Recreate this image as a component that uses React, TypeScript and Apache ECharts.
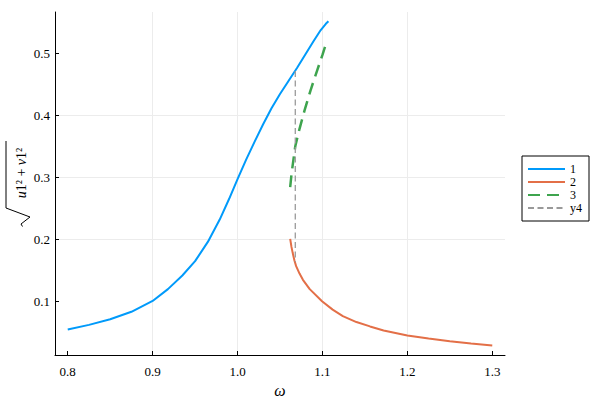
import React, { useEffect, useRef } from "react";
import * as echarts from "echarts";

const blueX = [0.8, 0.825, 0.85, 0.875, 0.9, 0.918, 0.935, 0.95, 0.965, 0.979, 0.99, 1.0, 1.01, 1.02, 1.03, 1.04, 1.05, 1.06, 1.07, 1.08, 1.09, 1.098, 1.104, 1.107];
const blueY = [0.055, 0.0625, 0.0715, 0.0835, 0.101, 0.12, 0.142, 0.165, 0.196, 0.232, 0.265, 0.297, 0.328, 0.357, 0.385, 0.411, 0.434, 0.455, 0.476, 0.498, 0.52, 0.537, 0.547, 0.551];

const orangeX = [1.062, 1.0635, 1.065, 1.067, 1.069, 1.073, 1.077, 1.085, 1.0995, 1.112, 1.124, 1.14, 1.156, 1.172, 1.2, 1.225, 1.25, 1.275, 1.3];
const orangeY = [0.201, 0.188, 0.178, 0.166, 0.157, 0.145, 0.135, 0.12, 0.1005, 0.087, 0.0765, 0.067, 0.06, 0.0535, 0.0455, 0.0405, 0.0362, 0.0325, 0.0293];

const greenX = [1.062, 1.0637, 1.066, 1.068, 1.073, 1.079, 1.086, 1.094, 1.1, 1.1047];
const greenY = [0.284, 0.307, 0.33, 0.35, 0.378, 0.408, 0.44, 0.473, 0.497, 0.517];

const grayX = [1.068, 1.068];
const grayY = [0.471, 0.164];

const xTicks = [0.8, 0.9, 1.0, 1.1, 1.2, 1.3];
const yTicks = [0.1, 0.2, 0.3, 0.4, 0.5];
const seriesNames = ["1", "2", "3", "y4"];

const FONT = "Liberation Serif";

const pairs = (xs: number[], ys: number[]) => xs.map((x, i) => [x, ys[i]]);

export default function App() {
  const ref = useRef<HTMLDivElement>(null);
  useEffect(() => {
    if (!ref.current) return;
    const chart = echarts.init(ref.current, null, { renderer: "svg" });
    const axisCommon = {
      type: "value" as const,
      axisLine: { show: true, onZero: false, lineStyle: { color: "#000", width: 1 } },
      splitLine: { show: true, showMinLine: false, showMaxLine: false, lineStyle: { color: "#ececec", width: 1 } },
    };
    chart.setOption({
      animation: false,
      backgroundColor: "#fff",
      grid: { left: 55, right: 95, top: 12, bottom: 45, containLabel: false, outerBoundsMode: "none" },
      xAxis: {
        ...axisCommon,
        min: 0.785,
        max: 1.315,
        name: "ω",
        nameLocation: "middle",
        nameGap: 15,
        nameTextStyle: { fontFamily: FONT, fontStyle: "italic", fontSize: 16, color: "#000" },
        axisTick: { show: true, inside: true, length: 4, customValues: xTicks, lineStyle: { color: "#000" } },
        axisLabel: { customValues: xTicks, formatter: (v: number) => v.toFixed(1), fontFamily: FONT, fontSize: 13, color: "#000", margin: 10 },
      },
      yAxis: {
        ...axisCommon,
        min: 0.014,
        max: 0.566,
        axisTick: { show: true, inside: true, length: 4, customValues: yTicks, lineStyle: { color: "#000" } },
        axisLabel: { customValues: yTicks, formatter: (v: number) => v.toFixed(1), fontFamily: FONT, fontSize: 13, color: "#000", margin: 5 },
      },
      legend: {
        data: seriesNames,
        orient: "vertical",
        left: 522,
        top: 156,
        itemWidth: 37,
        itemHeight: 12,
        itemGap: 1,
        padding: [7, 7, 7, 5],
        borderColor: "#000",
        borderWidth: 1,
        borderRadius: 0,
        backgroundColor: "#fff",
        itemStyle: { opacity: 0 },
        textStyle: { fontFamily: FONT, fontSize: 12, color: "#000" },
      },
      graphic: [
        {
          type: "text",
          x: 21,
          y: 173,
          rotation: Math.PI / 2,
          style: {
            text: "{i|u}1² + {i|v}1²",
            align: "center",
            verticalAlign: "middle",
            fontFamily: FONT,
            fontSize: 14,
            fill: "#000",
            rich: { i: { fontFamily: FONT, fontStyle: "italic", fontSize: 14 } },
          },
        },
        {
          type: "polyline",
          shape: { points: [[6, 141], [6, 208], [30, 217], [21, 224], [22.5, 226.5]] },
          style: { stroke: "#000", lineWidth: 1, fill: "none" },
        },
      ],
      series: [
        {
          name: "1",
          type: "line",
          data: pairs(blueX, blueY),
          symbol: "none",
          lineStyle: { color: "#009AFA", width: 2 },
          itemStyle: { color: "#009AFA" },
        },
        {
          name: "2",
          type: "line",
          data: pairs(orangeX, orangeY),
          symbol: "none",
          lineStyle: { color: "#E36F47", width: 2 },
          itemStyle: { color: "#E36F47" },
        },
        {
          name: "3",
          type: "line",
          data: pairs(greenX, greenY),
          symbol: "none",
          lineStyle: { color: "#3EA44E", width: 2.5, type: [12, 7] },
          itemStyle: { color: "#3EA44E" },
        },
        {
          name: "y4",
          type: "line",
          data: pairs(grayX, grayY),
          symbol: "none",
          lineStyle: { color: "#999999", width: 1.3, type: [6, 3.5] },
          itemStyle: { color: "#999999" },
        },
      ],
    });
    return () => chart.dispose();
  }, []);
  return <div ref={ref} style={{ width: 600, height: 400, position: "absolute", left: 0, top: 0 }} />;
}
